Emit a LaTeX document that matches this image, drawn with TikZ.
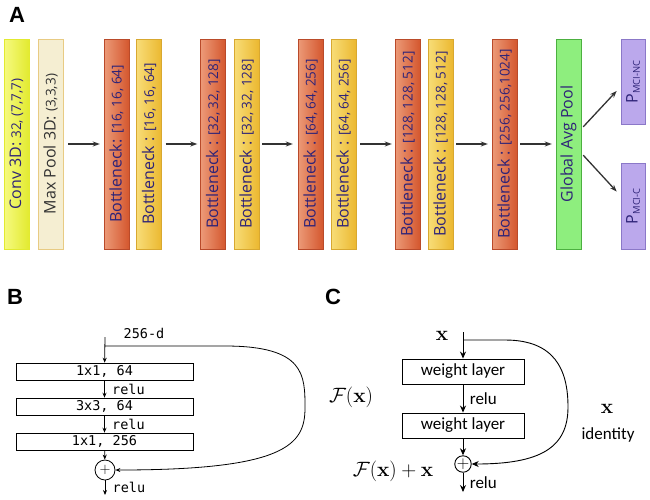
\documentclass[tikz,border=0pt]{standalone}
\usepackage[no-math]{fontspec}
\setmainfont{Open Sans}
\newfontfamily\panelfont{Liberation Sans}
\newfontfamily\codefont{DejaVu Sans Mono}
\newfontfamily\calfont{Carlito}
\usetikzlibrary{arrows.meta}
\definecolor{redL}{HTML}{EC9A78}
\definecolor{redR}{HTML}{D4572E}
\definecolor{redD}{HTML}{B94A2A}
\definecolor{yelL}{HTML}{F8DD78}
\definecolor{yelR}{HTML}{EBB830}
\definecolor{yelD}{HTML}{D8A830}
\definecolor{limeL}{HTML}{F6FA80}
\definecolor{limeR}{HTML}{E2EA30}
\definecolor{creamC}{HTML}{F5EED2}
\definecolor{greenC}{HTML}{8EEE7E}
\definecolor{greenD}{HTML}{4CB040}
\definecolor{purpC}{HTML}{BBA8EC}
\definecolor{purpD}{HTML}{8B78C8}
\definecolor{txtblue}{HTML}{2E2378}
\definecolor{arrowgray}{HTML}{333333}
\newcommand\smtxt[1]{{\fontsize{13.5}{15}\selectfont #1}}
\begin{document}
\begin{tikzpicture}[x=1pt,y=-1pt]
\tikzstyle{bar} = [draw, rotate=90, minimum width=210pt, minimum height=25pt, inner sep=0pt, text=txtblue, font=\fontsize{16}{18}\selectfont] % column of the net
\tikzstyle{redbar} = [bar, draw=redD, left color=redL, right color=redR]
\tikzstyle{yelbar} = [bar, draw=yelD, left color=yelL, right color=yelR]
\tikzstyle{flow} = [-{Stealth[length=7pt,width=5pt]}, line width=1.3pt, draw=arrowgray] % arrows of panel A
\tikzstyle{lay} = [draw, line width=0.6pt, inner sep=0pt] % layer box in B and C
\tikzstyle{panel} = [font=\panelfont\bfseries\fontsize{22}{24}\selectfont] % A, B, C
\useasboundingbox (0,0) rectangle (650,499);

% panel A
\node[panel] (pA) at (17,15) {A};
\node[bar, draw=limeR, left color=limeL, right color=limeR] (conv) at (16.5,144) {Conv 3D: \smtxt{32, (7,7,7)}};
\node[bar, draw=yelD!60, fill=creamC, text=black!80] (pool) at (50.5,144) {Max Pool 3D: \smtxt{(3,3,3)}};
\node[redbar] (bn1) at (116.5,144) {Bottleneck: \smtxt{[16, 16, 64]}};
\node[yelbar] (bn2) at (149,144) {Bottleneck : \smtxt{[16, 16, 64]}};
\node[redbar] (bn3) at (213,144) {Bottleneck : \smtxt{[32, 32, 128]}};
\node[yelbar] (bn4) at (246.5,144) {Bottleneck : \smtxt{[32, 32, 128]}};
\node[redbar] (bn5) at (310.5,144) {Bottleneck : \smtxt{[64, 64, 256]}};
\node[yelbar] (bn6) at (343.5,144) {Bottleneck : \smtxt{[64, 64, 256]}};
\node[redbar] (bn7) at (407.5,144) {Bottleneck : \smtxt{[128, 128, 512]}};
\node[yelbar] (bn8) at (440.5,144) {Bottleneck : \smtxt{[128, 128, 512]}};
\node[redbar] (bn9) at (504.5,144) {Bottleneck : \smtxt{[256, 256,1024]}};
\node[bar, draw=greenD, fill=greenC] (gap) at (568.5,144) {Global Avg Pool};
\node[bar, draw=purpD, fill=purpC, minimum width=85pt, minimum height=24pt] (pnc) at (633,81.5) {P\smtxt{\textsubscript{MCI-NC}}};
\node[bar, draw=purpD, fill=purpC, minimum width=86pt, minimum height=24pt] (pc) at (633,206) {P\smtxt{\textsubscript{MCI-C}}};
\draw[flow, shorten <=5pt, shorten >=4pt] (pool) -- (bn1);
\draw[flow, shorten <=4pt, shorten >=3pt] (bn2) -- (bn3);
\draw[flow, shorten <=3pt, shorten >=5pt] (bn4) -- (bn5);
\draw[flow, shorten <=4pt, shorten >=3pt] (bn6) -- (bn7);
\draw[flow, shorten <=3pt, shorten >=4pt] (bn8) -- (bn9);
\draw[flow, shorten <=3pt, shorten >=4pt] (bn9) -- (gap);
\draw[flow, shorten <=3pt, shorten >=6pt] ([yshift=15pt]gap.south) -- ([yshift=-5pt]pnc.north);
\draw[flow, shorten <=3pt, shorten >=6pt] ([yshift=-9pt]gap.south) -- ([yshift=10pt]pc.north);

% panel B
\begin{scope}[font=\codefont\fontsize{13.5}{15}\selectfont, >={Stealth[length=5pt,width=4pt]}, line width=0.8pt]
\node[panel] (pB) at (15,297) {B};
\coordinate (rin) at (105,337);
\coordinate (rsplit) at (105,346);
\coordinate (rout) at (105,495);
\node[lay, minimum width=177pt, minimum height=17pt] (r1) at (104.5,371.5) {1x1, 64};
\node[lay, minimum width=177pt, minimum height=17pt] (r2) at (104.5,406.5) {3x3, 64};
\node[lay, minimum width=177pt, minimum height=17pt] (r3) at (104.5,441.5) {1x1, 256};
\node[draw, circle, minimum size=20pt, inner sep=0pt] (radd) at (105,470) {$+$};
\node[anchor=west] (rd) at (120,333) {256-d};
\draw[->] (rin) -- (r1);
\draw[->] (r1) -- (r2) node[midway, right=4pt] (rl1) {relu};
\draw[->] (r2) -- (r3) node[midway, right=4pt] (rl2) {relu};
\draw[->] (r3) -- (radd);
\draw[->] (radd) -- (rout) node[midway, right=4pt] (rl3) {relu};
\draw[->] (rsplit) -- (225,346) .. controls (305,346) and (305,375) .. (305,408) .. controls (305,445) and (285,470) .. (radd.east);
\end{scope}

% panel C
\begin{scope}[font=\calfont\fontsize{17}{19}\selectfont, >={Stealth[length=7pt,width=6pt]}, line width=0.9pt]
\node[panel] (pC) at (333,297) {C};
\coordinate (cin) at (463,332);
\coordinate (csplit) at (463,340);
\coordinate (cout) at (463,492);
\node[lay, line width=0.9pt, minimum width=122pt, minimum height=25pt] (w1) at (463,371.5) {weight layer};
\node[lay, line width=0.9pt, minimum width=122pt, minimum height=25pt] (w2) at (463,425.5) {weight layer};
\node[draw, circle, minimum size=16pt, inner sep=0pt] (cadd) at (463,464) {$+$};
\node (cx) at (442,336) {\fontsize{21}{24}\selectfont$\mathbf{x}$};
\node (fx) at (351,397) {\fontsize{21}{24}\selectfont$\mathcal{F}(\mathbf{x})$};
\node (fxx) at (393,471) {\fontsize{21}{24}\selectfont$\mathcal{F}(\mathbf{x})+\mathbf{x}$};
\node (sx) at (607,409) {\fontsize{21}{24}\selectfont$\mathbf{x}$};
\node (sid) at (608,435) {identity};
\draw[->] (cin) -- (w1);
\draw[->] (w1) -- (w2) node[midway, right=3pt] (cl1) {relu};
\draw[->] (w2) -- (cadd);
\draw[->] (cadd) -- (cout) node[midway, right=3pt] (cl2) {relu};
\draw[->] (csplit) -- (505,340) .. controls (555,340) and (568,370) .. (568,407) .. controls (568,448) and (540,464) .. (cadd.east);
\end{scope}
\end{tikzpicture}
\end{document}
